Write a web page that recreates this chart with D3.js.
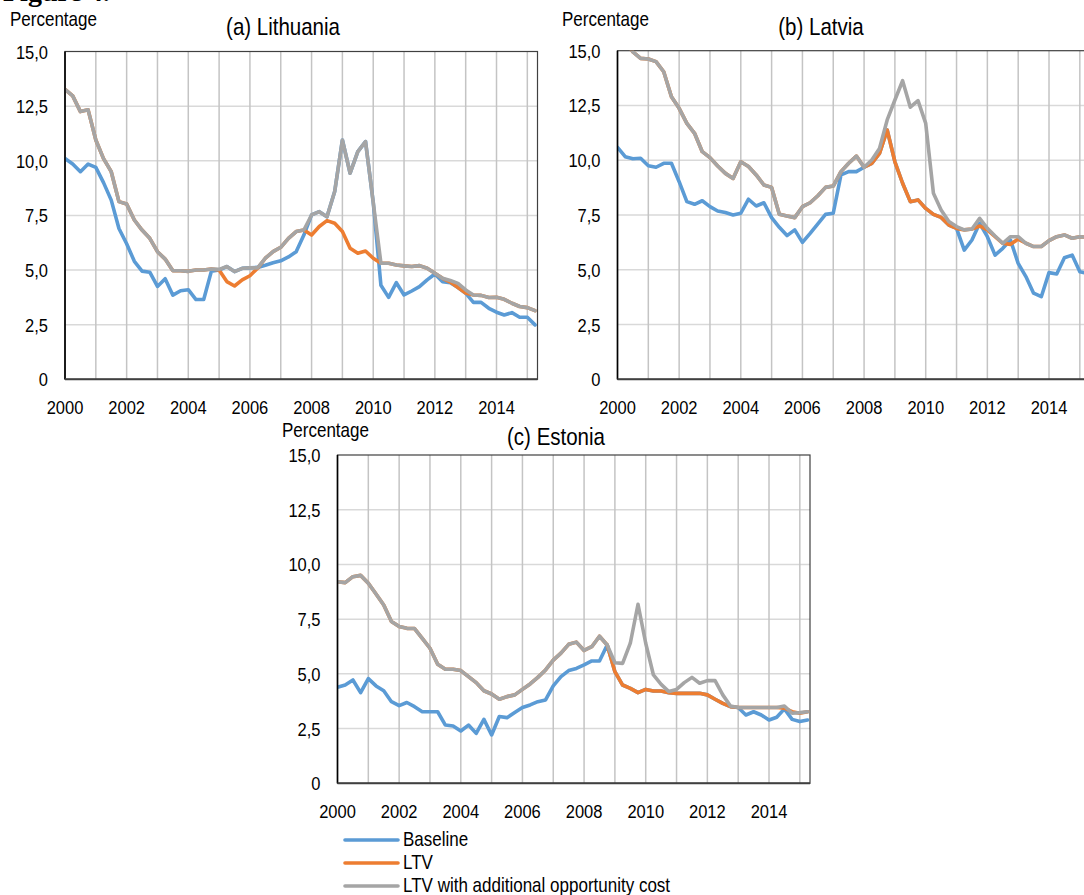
<!DOCTYPE html>
<html>
<head>
<meta charset="utf-8">
<script src="https://cdn.jsdelivr.net/npm/d3@7"></script>
<style>
  html, body { margin: 0; padding: 0; background: #fff; }
  svg { display: block; }
  text { font-family: "Liberation Sans", Arial, sans-serif; fill: #000; }
</style>
</head>
<body>
<svg id="chart" width="1084" height="895"></svg>
<script>
// Quarterly observations, 2000Q1 to 2015Q2
const quarters = d3.range(62).map(i => 2000 + i / 4);
const yearTicks = [2000, 2002, 2004, 2006, 2008, 2010, 2012, 2014];
const yTicks = [0, 2.5, 5, 7.5, 10, 12.5, 15];
const yTickLabels = ["0", "2,5", "5,0", "7,5", "10,0", "12,5", "15,0"];
const seriesNames = ["Baseline", "LTV", "LTV with additional opportunity cost"];
const seriesColors = ["#5B9BD5", "#ED7D31", "#A5A5A5"];

// (a) Lithuania
const ltBaseline = [
  10.1, 9.85, 9.5, 9.85, 9.7, 9.0, 8.2, 6.9,
  6.2, 5.4, 4.95, 4.9, 4.25, 4.6, 3.85, 4.05,
  4.1, 3.65, 3.65, 4.95, 5.0, 5.16, 4.93, 5.08,
  5.1, 5.12, 5.22, 5.33, 5.42, 5.6, 5.84, 6.6,
  7.52, 7.67, 7.44, 8.59, 10.95, 9.43, 10.42, 10.88,
  8.1, 4.3, 3.75, 4.42, 3.86, 4.04, 4.24, 4.55,
  4.82, 4.47, 4.42, 4.2, 3.94, 3.52, 3.52, 3.25,
  3.07, 2.94, 3.05, 2.84, 2.84, 2.49
];
const ltLTV = [
  13.27, 12.97, 12.25, 12.33, 10.95, 10.1, 9.5, 8.13,
  8.02, 7.29, 6.83, 6.45, 5.84, 5.5, 4.97, 4.97,
  4.94, 5.0, 5.0, 5.05, 5.0, 4.47, 4.27, 4.55,
  4.74, 5.08, 5.54, 5.84, 6.04, 6.45, 6.76, 6.83,
  6.6, 6.99, 7.26, 7.14, 6.76, 6.0, 5.77, 5.87,
  5.54, 5.31, 5.31, 5.23, 5.19, 5.16, 5.2, 5.08,
  4.85, 4.62, 4.45, 4.2, 3.95, 3.86, 3.84, 3.74,
  3.75, 3.66, 3.48, 3.33, 3.28, 3.14
];
const ltOpp = [
  13.27, 12.97, 12.25, 12.33, 10.95, 10.1, 9.5, 8.13,
  8.02, 7.29, 6.83, 6.45, 5.84, 5.5, 4.97, 4.97,
  4.94, 5.0, 5.0, 5.05, 5.03, 5.16, 4.93, 5.08,
  5.1, 5.1, 5.54, 5.84, 6.04, 6.45, 6.76, 6.83,
  7.52, 7.67, 7.44, 8.59, 10.95, 9.43, 10.42, 10.88,
  8.1, 5.31, 5.31, 5.23, 5.19, 5.16, 5.2, 5.08,
  4.85, 4.62, 4.52, 4.39, 4.09, 3.86, 3.84, 3.74,
  3.75, 3.66, 3.48, 3.33, 3.28, 3.14
];

// (b) Latvia
const lvBaseline = [
  10.59, 10.16, 10.07, 10.09, 9.75, 9.68, 9.86, 9.86,
  9.02, 8.11, 7.99, 8.15, 7.88, 7.68, 7.61, 7.5,
  7.58, 8.22, 7.91, 8.06, 7.38, 6.94, 6.56, 6.82,
  6.25, 6.66, 7.09, 7.53, 7.58, 9.33, 9.48, 9.48,
  9.68, 9.86, 10.31, 11.38, 9.93, 8.95, 8.11, 8.19,
  7.8, 7.53, 7.39, 7.04, 6.89, 5.9, 6.36, 7.12,
  6.51, 5.67, 5.98, 6.36, 5.29, 4.69, 3.93, 3.77,
  4.87, 4.81, 5.55, 5.67, 4.91, 4.84
];
const lvLTV = [
  15.8, 15.4, 14.95, 14.65, 14.62, 14.5, 14.04, 12.9,
  12.37, 11.68, 11.23, 10.39, 10.12, 9.74, 9.4, 9.17,
  9.93, 9.71, 9.33, 8.87, 8.76, 7.53, 7.45, 7.38,
  7.88, 8.06, 8.38, 8.76, 8.82, 9.48, 9.86, 10.19,
  9.68, 9.86, 10.31, 11.38, 9.93, 8.95, 8.11, 8.19,
  7.8, 7.53, 7.39, 7.04, 6.89, 6.82, 6.86, 7.0,
  6.82, 6.51, 6.21, 6.16, 6.4, 6.21, 6.06, 6.06,
  6.33, 6.51, 6.59, 6.44, 6.51, 6.48
];
const lvOpp = [
  15.8, 15.4, 14.95, 14.65, 14.62, 14.5, 14.04, 12.9,
  12.37, 11.68, 11.23, 10.39, 10.12, 9.74, 9.4, 9.17,
  9.93, 9.71, 9.33, 8.87, 8.76, 7.53, 7.45, 7.38,
  7.88, 8.06, 8.38, 8.76, 8.82, 9.48, 9.86, 10.19,
  9.68, 10.01, 10.54, 11.84, 12.75, 13.63, 12.42, 12.72,
  11.68, 8.49, 7.73, 7.2, 6.97, 6.82, 6.86, 7.35,
  6.89, 6.54, 6.21, 6.51, 6.51, 6.21, 6.06, 6.06,
  6.33, 6.51, 6.59, 6.44, 6.51, 6.48
];

// (c) Estonia
const eeBaseline = [
  4.39, 4.49, 4.72, 4.14, 4.78, 4.45, 4.23, 3.73,
  3.55, 3.69, 3.5, 3.27, 3.27, 3.27, 2.66, 2.62,
  2.39, 2.66, 2.28, 2.92, 2.21, 3.05, 3.0, 3.23,
  3.46, 3.58, 3.73, 3.81, 4.45, 4.87, 5.15, 5.25,
  5.41, 5.59, 5.59, 6.32, 5.1, 4.49, 4.34, 4.14,
  4.29, 4.22, 4.22, 4.14, 4.11, 4.11, 4.11, 4.11,
  4.04, 3.84, 3.65, 3.5, 3.46, 3.12, 3.27, 3.12,
  2.89, 3.02, 3.4, 2.92, 2.82, 2.89
];
const eeLTV = [
  9.21, 9.17, 9.44, 9.5, 9.14, 8.65, 8.15, 7.39,
  7.16, 7.08, 7.07, 6.62, 6.17, 5.44, 5.21, 5.21,
  5.15, 4.87, 4.6, 4.23, 4.08, 3.84, 3.96, 4.04,
  4.29, 4.54, 4.84, 5.18, 5.63, 5.95, 6.35, 6.45,
  6.07, 6.24, 6.72, 6.32, 5.1, 4.49, 4.34, 4.14,
  4.29, 4.22, 4.22, 4.14, 4.11, 4.11, 4.11, 4.11,
  4.04, 3.84, 3.65, 3.5, 3.46, 3.46, 3.46, 3.46,
  3.46, 3.46, 3.43, 3.27, 3.2, 3.27
];
const eeOpp = [
  9.21, 9.17, 9.44, 9.5, 9.14, 8.65, 8.15, 7.39,
  7.16, 7.08, 7.07, 6.62, 6.17, 5.44, 5.21, 5.21,
  5.15, 4.87, 4.6, 4.23, 4.08, 3.84, 3.96, 4.04,
  4.29, 4.54, 4.84, 5.18, 5.63, 5.95, 6.35, 6.45,
  6.07, 6.24, 6.72, 6.32, 5.51, 5.48, 6.4, 8.18,
  6.4, 4.95, 4.52, 4.19, 4.29, 4.6, 4.84, 4.57,
  4.69, 4.69, 4.04, 3.53, 3.46, 3.46, 3.46, 3.46,
  3.46, 3.46, 3.53, 3.2, 3.23, 3.27
];

const svg = d3.select("#chart");
const textStretch = 1.16;

// place a text at (x, y) with a slight vertical stretch of the glyphs
function placeText(sel, x, y) {
  sel.attr("x", 0).attr("y", 0)
    .attr("transform", (d, i, n) => {
      const xx = typeof x === "function" ? x(d, i, n) : x;
      const yy = typeof y === "function" ? y(d, i, n) : y;
      return `translate(${xx},${yy}) scale(1,${textStretch})`;
    });
  return sel;
}

// Figure heading, running off the top edge of the page
svg.append("text")
  .attr("x", 3).attr("y", 1)
  .style("font-family", "'Liberation Serif', 'Times New Roman', serif")
  .style("font-weight", "bold")
  .style("font-size", "28px")
  .text("Figure 4.");

const yearSpan = [2000, 2015.33];

function drawPanel(p) {
  const x = d3.scaleLinear().domain(yearSpan).range([p.left, p.left + p.width]);
  const y = d3.scaleLinear().domain([0, 15]).range([p.bottom, p.top]);
  const g = svg.append("g");

  // horizontal gridlines
  g.append("g").selectAll("line").data(yTicks.filter(v => v > 0 && v < 15)).join("line")
    .attr("x1", p.left).attr("x2", p.left + p.width)
    .attr("y1", d => y(d)).attr("y2", d => y(d))
    .attr("stroke", "#D9D9D9").attr("stroke-width", 1.5);

  // vertical gridlines every year
  g.append("g").selectAll("line").data(d3.range(2001, 2016)).join("line")
    .attr("x1", d => x(d)).attr("x2", d => x(d))
    .attr("y1", p.top).attr("y2", p.bottom)
    .attr("stroke", "#C4C4C4").attr("stroke-width", 1.5);

  // plot frame
  g.append("rect")
    .attr("x", p.left).attr("y", p.top)
    .attr("width", p.width).attr("height", p.bottom - p.top)
    .attr("fill", "none").attr("stroke", "#404040").attr("stroke-width", 1.2);

  // series, clipped to the plot area
  const clipId = "clip-" + p.id;
  svg.append("clipPath").attr("id", clipId).append("rect")
    .attr("x", p.left).attr("y", p.top)
    .attr("width", p.width).attr("height", p.bottom - p.top);
  const line = d3.line().x((d, i) => x(quarters[i])).y(d => y(d));
  const lg = g.append("g").attr("clip-path", `url(#${clipId})`);
  p.series.forEach((vals, k) => {
    lg.append("path")
      .datum(vals)
      .attr("d", line)
      .attr("fill", "none")
      .attr("stroke", seriesColors[k])
      .attr("stroke-width", 3.6)
      .attr("stroke-linejoin", "round")
      .attr("stroke-linecap", "round");
  });

  // axis lines
  g.append("line").attr("x1", p.left).attr("x2", p.left)
    .attr("y1", p.top).attr("y2", p.bottom)
    .attr("stroke", "#000").attr("stroke-width", 1.6);
  g.append("line").attr("x1", p.left).attr("x2", p.left + p.width)
    .attr("y1", p.bottom).attr("y2", p.bottom)
    .attr("stroke", "#404040").attr("stroke-width", 2);

  // y tick labels
  placeText(
    g.append("g").selectAll("text").data(yTicks).join("text")
      .attr("text-anchor", "end")
      .style("font-size", "16.5px")
      .text((d, i) => yTickLabels[i]),
    p.left - 17, d => y(d) + 7);

  // x tick labels
  placeText(
    g.append("g").selectAll("text").data(yearTicks).join("text")
      .attr("text-anchor", "middle")
      .style("font-size", "16.5px")
      .text(d => d),
    d => x(d), p.bottom + 35);

  // unit label and panel title
  placeText(g.append("text").style("font-size", "17px").text("Percentage"),
    p.unitX, p.unitY);
  placeText(g.append("text").attr("text-anchor", "middle")
    .style("font-size", "20.5px").text(p.title),
    p.titleX, p.titleY);
}

drawPanel({ id: "lt", left: 65, width: 472.5, top: 51.5, bottom: 379.3,
  title: "(a) Lithuania", titleX: 283, titleY: 35, unitX: 10, unitY: 26,
  series: [ltBaseline, ltLTV, ltOpp] });
drawPanel({ id: "lv", left: 617.5, width: 472.5, top: 50.7, bottom: 379.3,
  title: "(b) Latvia", titleX: 821, titleY: 35, unitX: 562, unitY: 26,
  series: [lvBaseline, lvLTV, lvOpp] });
drawPanel({ id: "ee", left: 337.5, width: 472.5, top: 455, bottom: 783.3,
  title: "(c) Estonia", titleX: 556, titleY: 445, unitX: 282, unitY: 437,
  series: [eeBaseline, eeLTV, eeOpp] });

// legend
const legend = svg.append("g");
seriesNames.forEach((name, k) => {
  const yy = 840 + k * 23;
  legend.append("line")
    .attr("x1", 345).attr("x2", 398).attr("y1", yy).attr("y2", yy)
    .attr("stroke", seriesColors[k]).attr("stroke-width", 3.6)
    .attr("stroke-linecap", "round");
  placeText(legend.append("text").style("font-size", "17px").text(name),
    403, yy + 6);
});
</script>
</body>
</html>
